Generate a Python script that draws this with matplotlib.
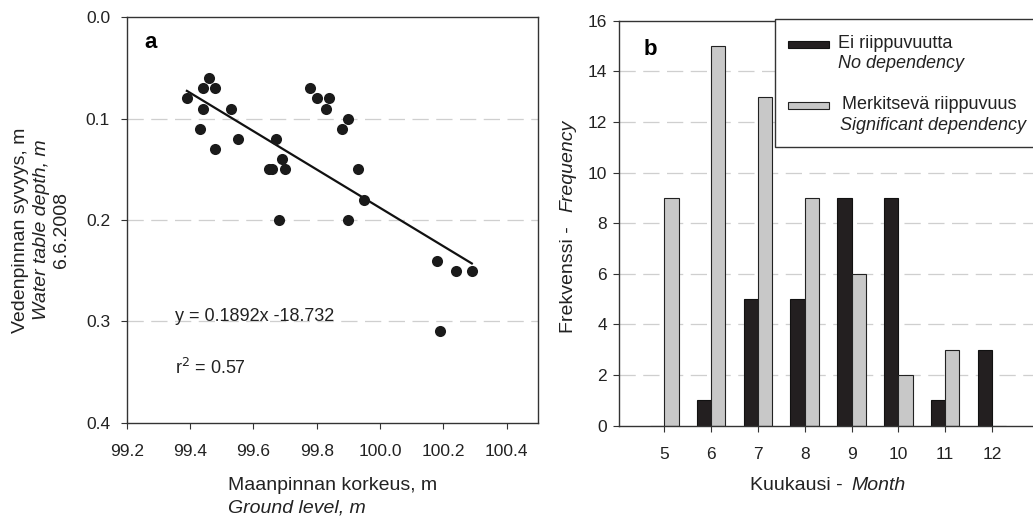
import numpy as np
import matplotlib
matplotlib.use("Agg")
import matplotlib.pyplot as plt
from matplotlib.patches import Rectangle

plt.rcParams['font.family'] = ['Liberation Sans', 'DejaVu Sans']

# panel a: ground level vs water table depth
ground = [99.39, 99.44, 99.46, 99.48, 99.44, 99.43, 99.48, 99.53, 99.55,
          99.67, 99.69, 99.65, 99.66, 99.70, 99.68,
          99.78, 99.80, 99.84, 99.83, 99.88, 99.90, 99.93, 99.95, 99.90,
          100.18, 100.24, 100.29, 100.19]
depth = [0.08, 0.07, 0.06, 0.07, 0.09, 0.11, 0.13, 0.09, 0.12,
         0.12, 0.14, 0.15, 0.15, 0.15, 0.20,
         0.07, 0.08, 0.08, 0.09, 0.11, 0.10, 0.15, 0.18, 0.20,
         0.24, 0.25, 0.25, 0.31]
slope, intercept = 0.1892, -18.732
x_ticks_a = [99.2, 99.4, 99.6, 99.8, 100.0, 100.2, 100.4]
x_ticklabels_a = ['99.2', '99.4', '99.6', '99.8', '100.0', '100.2', '100.4']
y_ticks_a = [0.0, 0.1, 0.2, 0.3, 0.4]

# panel b: frequency per month
months = [5, 6, 7, 8, 9, 10, 11, 12]
no_dep = [0, 1, 5, 5, 9, 9, 1, 3]
sig_dep = [9, 15, 13, 9, 6, 2, 3, 0]

dark = '#231f20'
light = '#c8c8c8'
spine_c = '#333333'
txt_c = '#222222'
grid_kw = dict(color='#cfcfcf', lw=0.9, ls=(0, (13, 6)), zorder=0)
lab_fs = 14
tick_fs = 12.5

fig = plt.figure(figsize=(10.33, 5.17), dpi=100)

# ---- panel a
ax1 = fig.add_axes([0.1227, 0.1824, 0.3984, 0.7841])
ax1.scatter(ground, depth, s=64, color='#1a1a1a', zorder=3, linewidths=0)
xl = np.array([min(ground), max(ground)])
ax1.plot(xl, slope * xl + intercept, color='#111111', lw=1.6, zorder=2)
for yv in [0.1, 0.2, 0.3]:
    ax1.axhline(yv, **grid_kw)
ax1.set_xlim(99.2, 100.5)
ax1.set_ylim(0.4, 0.0)
ax1.set_xticks(x_ticks_a)
ax1.set_xticklabels(x_ticklabels_a)
ax1.set_yticks(y_ticks_a)
ax1.set_yticklabels(['0.0', '0.1', '0.2', '0.3', '0.4'])
ax1.text(99.256, 0.025, 'a', fontsize=16, fontweight='bold', va='center')
ax1.text(99.353, 0.2955, 'y = 0.1892x -18.732', fontsize=13, va='center', color=txt_c)
ax1.text(99.353, 0.346, 'r$^2$ = 0.57', fontsize=13, va='center', color=txt_c)

# ---- panel b
ax2 = fig.add_axes([0.5995, 0.1766, 0.4025, 0.7834])
w = 0.305
m = np.array(months)
ax2.bar(m - w / 2, no_dep, width=w, color=dark, edgecolor='#111111', lw=0.8, zorder=2)
ax2.bar(m + w / 2, sig_dep, width=w, color=light, edgecolor='#222222', lw=0.8, zorder=2)
for yv in range(2, 16, 2):
    ax2.axhline(yv, **grid_kw)
ax2.set_xlim(4.04, 12.92)
ax2.set_ylim(0, 16)
ax2.set_xticks(months)
ax2.set_yticks(range(0, 17, 2))
ax2.text(4.55, 14.85, 'b', fontsize=16, fontweight='bold', va='center')

for ax in (ax1, ax2):
    for sp in ax.spines.values():
        sp.set_color(spine_c)
        sp.set_linewidth(1.0)
    ax.tick_params(direction='out', length=4, width=0.8, color=spine_c,
                   labelsize=tick_fs, labelcolor=txt_c)
    ax.tick_params(axis='x', pad=11)
ax1.tick_params(axis='y', pad=8)
ax2.tick_params(axis='y', pad=5)

# axis labels
fig.text(0.020, 0.555, 'Vedenpinnan syvyys, m', rotation=90, ha='center', va='center', fontsize=lab_fs, color=txt_c)
fig.text(0.040, 0.555, 'Water table depth, m', rotation=90, ha='center', va='center', fontsize=lab_fs,
         style='italic', color=txt_c)
fig.text(0.060, 0.555, '6.6.2008', rotation=90, ha='center', va='center', fontsize=lab_fs, color=txt_c)
fig.text(0.221, 0.060, 'Maanpinnan korkeus, m', ha='left', va='center', fontsize=lab_fs, color=txt_c)
fig.text(0.221, 0.018, 'Ground level, m', ha='left', va='center', fontsize=lab_fs, style='italic', color=txt_c)

fig.text(0.550, 0.356, 'Frekvenssi -', rotation=90, ha='center', va='bottom', fontsize=lab_fs, color=txt_c)
fig.text(0.550, 0.590, 'Frequency', rotation=90, ha='center', va='bottom', fontsize=lab_fs,
         style='italic', color=txt_c)
fig.text(0.726, 0.060, 'Kuukausi -', ha='left', va='center', fontsize=lab_fs, color=txt_c)
fig.text(0.8238, 0.060, 'Month', ha='left', va='center', fontsize=lab_fs, style='italic', color=txt_c)

# legend box (drawn by hand for the mixed italic labels)
fig.patches.append(Rectangle((0.750, 0.7157), 0.26, 0.2476, transform=fig.transFigure,
                             facecolor='white', edgecolor='#333333', lw=1.0, zorder=5))
fig.patches.append(Rectangle((0.763, 0.908), 0.040, 0.012, transform=fig.transFigure,
                             facecolor=dark, edgecolor='#111111', lw=0.8, zorder=6))
fig.patches.append(Rectangle((0.763, 0.790), 0.040, 0.013, transform=fig.transFigure,
                             facecolor=light, edgecolor='#222222', lw=0.8, zorder=6))
fig.text(0.811, 0.916, 'Ei riippuvuutta', fontsize=13, va='center', zorder=7, color=txt_c)
fig.text(0.811, 0.878, 'No dependency', fontsize=13, va='center', style='italic', zorder=7, color=txt_c)
fig.text(0.815, 0.797, 'Merkitsevä riippuvuus', fontsize=13, va='center', zorder=7, color=txt_c)
fig.text(0.813, 0.757, 'Significant dependency', fontsize=13, va='center', style='italic', zorder=7,
         color=txt_c)

fig.savefig('out.png', dpi=100)
